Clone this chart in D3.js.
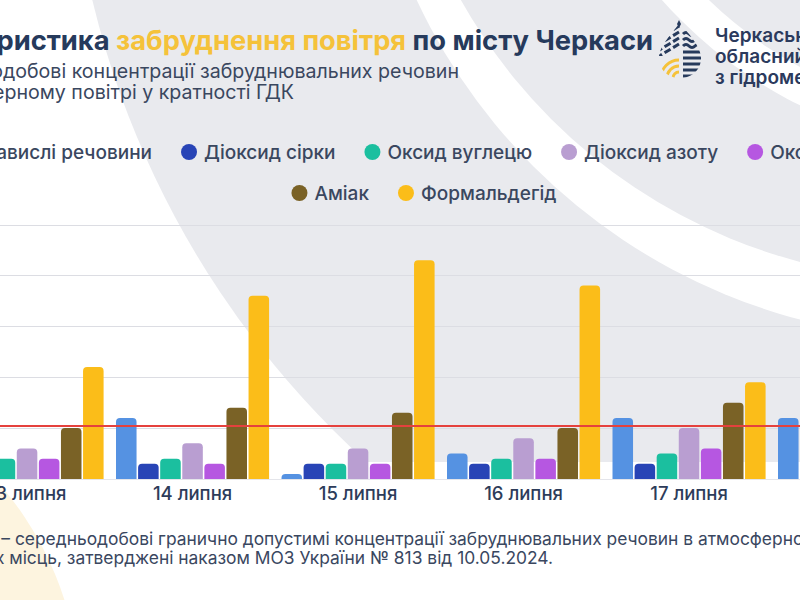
<!DOCTYPE html>
<html>
<head>
<meta charset="utf-8">
<script src="https://cdn.jsdelivr.net/npm/d3@7"></script>
<style>
  html, body { margin: 0; padding: 0; background: #fff; overflow: hidden; }
  svg { display: block; font-family: Inter, "Noto Sans", sans-serif; }
</style>
</head>
<body>
<svg id="chart" width="800" height="600"></svg>
<script>
// Характеристика забруднення повітря, Черкаси -- values in multiples of ГДК

var days = ["13 липня", "14 липня", "15 липня", "16 липня", "17 липня", "18 липня"];
var pollutants = ["Завислі речовини", "Діоксид сірки", "Оксид вуглецю", "Діоксид азоту",
                  "Оксид азоту", "Аміак", "Формальдегід"];
var colors = ["#5592e2", "#2844b6", "#1bbf9f", "#b99ed1", "#b657e1", "#7a6226", "#fbbd19"];

// one array per pollutant, by day; null = bar lies outside the picture
var suspended    = [null, 1.2, 0.1, 0.5, 1.2, 1.2];
var so2          = [null, 0.3, 0.3, 0.3, 0.3, null];
var co           = [0.4, 0.4, 0.3, 0.4, 0.5, null];
var no2          = [0.6, 0.7, 0.6, 0.8, 1.0, null];
var no           = [0.4, 0.3, 0.3, 0.4, 0.6, null];
var ammonia      = [1.0, 1.4, 1.3, 1.0, 1.5, null];
var formaldehyde = [2.2, 3.6, 4.3, 3.8, 1.9, null];

var yTicks = [1, 2, 3, 4, 5];
var limitValue = 1.04;   // red ГДК line, as drawn

var series = [suspended, so2, co, no2, no, ammonia, formaldehyde];

var svg = d3.select("#chart");
var W = 800, H = 600;
var navy = "#263a5c", textGray = "#3a475f";

///////////////////////////////////////////////////////////////////////////////
// Background: grey sheet with white concentric stripes

var bg = svg.append("g");
svg.append("defs").append("clipPath").attr("id", "sheet")
  .append("rect").attr("x", 0).attr("y", 0).attr("width", W).attr("height", 462);

bg.append("rect").attr("width", W).attr("height", H).attr("fill", "#fff");
bg.append("circle").attr("cx", -250).attr("cy", 700).attr("r", 330).attr("fill", "#fdf4df");

var rings = bg.append("g").attr("clip-path", "url(#sheet)");
[
  {cx: 977, cy: -213, r: 910, fill: "#e9eaee"},
  {cx: 950, cy: -250, r: 589, fill: "#fff"},
  {cx: 940, cy: -270, r: 550, fill: "#e9eaee"},
  {cx: 1000, cy: -300, r: 452, fill: "#fff"},
  {cx: 1000, cy: -300, r: 418, fill: "#e9eaee"}
].forEach(function (c) {
  rings.append("circle").attr("cx", c.cx).attr("cy", c.cy).attr("r", c.r).attr("fill", c.fill);
});

///////////////////////////////////////////////////////////////////////////////
// Scales

var x = d3.scaleBand().domain(days).range([-55.7, 937.3]).paddingInner(0.075).paddingOuter(0.0375);
var xInner = d3.scaleBand().domain(d3.range(pollutants.length)).range([0, x.bandwidth()]).paddingInner(0.07);
var y = d3.scaleLinear().domain([0, 5]).range([479, 224.5]);

// grid
svg.append("g").selectAll("line").data([0].concat(yTicks)).join("line")
  .attr("x1", 0).attr("x2", W)
  .attr("y1", function (d) { return Math.round(y(d)) + 0.5; })
  .attr("y2", function (d) { return Math.round(y(d)) + 0.5; })
  .attr("stroke", function (d) { return d === 0 ? "#e4e5ea" : "#dcdde3"; })
  .attr("stroke-width", 1);

// bars
var topRounded = function (bx, by, w, h, r) {
  r = Math.min(r, h, w / 2);
  return "M" + bx + "," + (by + h) + "V" + (by + r) +
    "Q" + bx + "," + by + " " + (bx + r) + "," + by +
    "H" + (bx + w - r) + "Q" + (bx + w) + "," + by + " " + (bx + w) + "," + (by + r) +
    "V" + (by + h) + "Z";
};

var barData = [];
series.forEach(function (vals, si) {
  vals.forEach(function (v, di) {
    if (v !== null) barData.push({day: days[di], s: si, v: v});
  });
});

svg.append("g").selectAll("path").data(barData).join("path")
  .attr("fill", function (d) { return colors[d.s]; })
  .attr("d", function (d) {
    var bx = x(d.day) + xInner(d.s);
    return topRounded(bx, y(d.v), xInner.bandwidth(), y(0) - y(d.v), 4);
  });

// ГДК line
svg.append("line")
  .attr("x1", 0).attr("x2", W)
  .attr("y1", y(limitValue)).attr("y2", y(limitValue))
  .attr("stroke", "#e5413d").attr("stroke-width", 2);

// x labels
svg.append("g").selectAll("text").data(days).join("text")
  .attr("x", function (d) { return x(d) + x.bandwidth() / 2; })
  .attr("y", 500)
  .attr("text-anchor", "middle")
  .attr("font-size", 18.5).attr("font-weight", 500)
  .attr("fill", "#2d3c5a")
  .text(function (d) { return d; });

///////////////////////////////////////////////////////////////////////////////
// Title block

var title = svg.append("text")
  .attr("x", 653).attr("y", 50).attr("text-anchor", "end")
  .attr("font-size", 27.3).attr("font-weight", 700).attr("fill", navy);
title.append("tspan").text("Характеристика ");
title.append("tspan").attr("fill", "#f5c23a").text("забруднення повітря");
title.append("tspan").text(" по місту Черкаси");

svg.append("text").attr("x", 459).attr("y", 78).attr("text-anchor", "end")
  .attr("font-size", 19.6).attr("fill", textGray)
  .text("Середньодобові концентрації забруднювальних речовин");
svg.append("text").attr("x", 294).attr("y", 99).attr("text-anchor", "end")
  .attr("font-size", 19.6).attr("fill", textGray)
  .text("в атмосферному повітрі у кратності ГДК");

///////////////////////////////////////////////////////////////////////////////
// Legend, two centred rows

var rows = [[0, 1, 2, 3, 4], [5, 6]];
var rowY = [152, 193];
var legendCenter = 424, legendGap = 37;

rows.forEach(function (row, ri) {
  var g = svg.append("g");
  var cx = 0;
  row.forEach(function (si) {
    g.append("circle").attr("cx", cx).attr("cy", rowY[ri]).attr("r", 8).attr("fill", colors[si]);
    var t = g.append("text").attr("x", cx + 15).attr("y", rowY[ri] + 7)
      .attr("font-size", 19).attr("font-weight", 500).attr("fill", textGray)
      .text(pollutants[si]);
    cx = cx + 15 + t.node().getComputedTextLength() + legendGap;
  });
  var span = cx - legendGap + 8;
  g.attr("transform", "translate(" + (legendCenter - span / 2 + 8) + ",0)");
});

///////////////////////////////////////////////////////////////////////////////
// Footnote

var footSize = 17.4;
var foot1 = svg.append("text").attr("y", 545).attr("font-size", footSize).attr("fill", textGray);
var probe = svg.append("text").attr("font-size", footSize).text("ГДК – ");
var prefixW = probe.node().getComputedTextLength();
probe.remove();
foot1.attr("x", 10 - prefixW)
  .text("ГДК – середньодобові гранично допустимі концентрації забруднювальних речовин в атмосферному повітрі");
svg.append("text").attr("x", 553).attr("y", 564).attr("text-anchor", "end")
  .attr("font-size", footSize).attr("fill", textGray)
  .text("населених місць, затверджені наказом МОЗ України № 813 від 10.05.2024.");

///////////////////////////////////////////////////////////////////////////////
// Logo

var logo = svg.append("g").attr("transform", "translate(680,50)");
var dropPath = "M0,-28 C6,-18 21,-5 21,8 C21,20 12,28 0,28 C-12,28 -21,20 -21,8 C-21,-5 -6,-18 0,-28 Z";
svg.select("defs").append("clipPath").attr("id", "drop").append("path").attr("d", dropPath);
var dg = logo.append("g").attr("clip-path", "url(#drop)");

// right half: waves and lines
d3.range(-16, 28, 6).forEach(function (ly, i) {
  var p = i < 3
    ? "M3," + ly + " q3,-3 6,0 t6,0 t6,0 t6,0"
    : "M3," + ly + " H24";
  dg.append("path").attr("d", p).attr("fill", "none").attr("stroke", navy).attr("stroke-width", 3);
});
// left upper: rain stripes
d3.range(-30, 12, 6).forEach(function (o) {
  dg.append("line").attr("x1", -24).attr("y1", o + 2).attr("x2", -1).attr("y2", o - 12)
    .attr("stroke", navy).attr("stroke-width", 3).attr("stroke-dasharray", "7,3");
});
dg.append("rect").attr("x", -24).attr("y", 6).attr("width", 23).attr("height", 24).attr("fill", "#e9eaee");
// left lower: yellow arcs
[6, 12, 18].forEach(function (r) {
  dg.append("path")
    .attr("d", "M-1," + (28 - r) + " A" + r + "," + r + " 0 0 0 " + (-1 - r) + ",28")
    .attr("fill", "none").attr("stroke", "#f5c23a").attr("stroke-width", 3);
});
logo.append("path").attr("d", "M-1,-30 L-3,-26 L-1,-22 L1,-26 Z").attr("fill", navy);

var logoText = svg.append("text").attr("font-size", 19).attr("font-weight", 600).attr("fill", "#2b3a5d");
["Черкаський", "обласний центр", "з гідрометеорології"].forEach(function (line, i) {
  logoText.append("tspan").attr("x", 715).attr("y", 42 + i * 21).text(line);
});
</script>
</body>
</html>
